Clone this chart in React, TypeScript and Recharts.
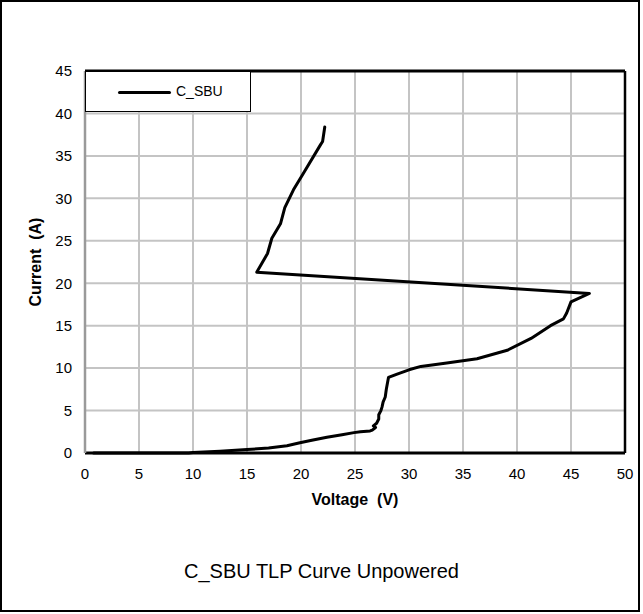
import { LineChart, Line, XAxis, YAxis, CartesianGrid, ReferenceLine, Legend, Label } from "recharts";

// TLP sweep (V, A) in trace order
const voltage = [
  0.8, 5, 9.6, 10, 12.5, 15, 17, 18.7, 19.9, 21, 22.4, 23.8, 24.9, 25.5, 26.4, 26.6, 26.9,
  26.7, 27.0, 27.2, 27.2, 27.4, 27.5, 27.6, 27.8, 27.9, 28.1, 28.9, 30.0, 31.1, 33.5, 36.3,
  39.1, 41.3, 43.1, 44.3, 44.6, 45.0, 46.7, 15.9, 16.9, 17.3, 18.1, 18.5, 19.3, 20.1, 21.8,
  22.0, 22.2,
];
const current = [
  0, 0, 0, 0.07, 0.2, 0.4, 0.6, 0.86, 1.2, 1.5, 1.85, 2.15, 2.4, 2.5, 2.6, 2.7, 3.0,
  3.2, 3.5, 4.0, 4.5, 5.0, 5.4, 6.0, 6.6, 7.5, 8.9, 9.3, 9.8, 10.2, 10.6, 11.1,
  12.1, 13.5, 15.0, 15.8, 16.5, 17.8, 18.8, 21.3, 23.5, 25.3, 27.0, 28.9, 31.0, 32.7, 36.3,
  36.7, 38.4,
];
const xTicks = [0, 5, 10, 15, 20, 25, 30, 35, 40, 45, 50];
const yTicks = [0, 5, 10, 15, 20, 25, 30, 35, 40, 45];
const seriesName = "C_SBU";
const title = "C_SBU TLP Curve Unpowered";

const data = voltage.map((v, i) => ({ v, a: current[i] }));

const font = "'Liberation Sans', Arial, sans-serif";

const LegendBox = () => (
  <div
    style={{
      width: 166,
      height: 41,
      boxSizing: "border-box",
      border: "1.5px solid #000",
      background: "#fff",
      position: "relative",
      fontFamily: font,
      fontSize: 14,
    }}
  >
    <div
      style={{
        position: "absolute",
        left: 32,
        top: 19,
        width: 53,
        height: 3,
        borderRadius: 2,
        background: "#000",
      }}
    />
    <span style={{ position: "absolute", left: 90, top: 11, color: "#000" }}>{seriesName}</span>
  </div>
);

const YTitle = (props: any) => {
  const vb = props.viewBox || {};
  const cx = 35;
  const cy = vb.y + vb.height / 2;
  return (
    <text
      x={cx}
      y={cy}
      transform={`rotate(-90, ${cx}, ${cy})`}
      textAnchor="middle"
      dominantBaseline="central"
      fontFamily={font}
      fontSize={16}
      fontWeight="bold"
      fill="#000"
    >
      Current&#160;&#160;(A)
    </text>
  );
};

export default function App() {
  return (
    <div style={{ position: "absolute", left: 0, top: 0, width: 643, height: 614, background: "#fff" }}>
      <div
        style={{
          position: "absolute",
          left: 0,
          top: 0,
          width: 640,
          height: 612,
          boxSizing: "border-box",
          border: "2px solid #000",
        }}
      />
      <div style={{ position: "absolute", left: 0, top: 0 }}>
        <LineChart width={643} height={614} data={data} margin={{ top: 71, right: 18, bottom: 131, left: 25 }}>
          <CartesianGrid stroke="#c4c4c4" strokeWidth={2} />
          <XAxis
            type="number"
            dataKey="v"
            domain={[0, 50]}
            ticks={xTicks}
            interval={0}
            height={30}
            tickLine={false}
            tickSize={6}
            tickMargin={9}
            axisLine={{ stroke: "#000", strokeWidth: 3 }}
            tick={{ fill: "#000", fontSize: 15, fontFamily: font }}
          >
            <Label
              value={"Voltage\u00a0\u00a0(V)"}
              position="bottom"
              offset={11}
              style={{ fontFamily: font, fontSize: 16, fontWeight: "bold", fill: "#000" }}
            />
          </XAxis>
          <YAxis
            type="number"
            domain={[0, 45]}
            ticks={yTicks}
            interval={0}
            width={60}
            tickLine={false}
            tickSize={6}
            tickMargin={7}
            axisLine={{ stroke: "#9a9a9a", strokeWidth: 2.5 }}
            tick={{ fill: "#000", fontSize: 15, fontFamily: font }}
          >
            <Label content={<YTitle />} />
          </YAxis>
          <ReferenceLine y={45} stroke="#000" strokeWidth={3} />
          <ReferenceLine x={50} stroke="#000" strokeWidth={2.5} />
          <Legend
            layout="horizontal"
            verticalAlign="middle"
            align="center"
            wrapperStyle={{ left: 85, top: 71, width: 166, height: 41 }}
            content={() => <LegendBox />}
          />
          <Line
            type="linear"
            dataKey="a"
            name={seriesName}
            stroke="#000"
            strokeWidth={3}
            strokeLinejoin="round"
            strokeLinecap="round"
            dot={false}
            isAnimationActive={false}
          />
        </LineChart>
      </div>
      <div
        style={{
          position: "absolute",
          left: 0,
          width: 643,
          top: 560,
          textAlign: "center",
          fontFamily: font,
          fontSize: 20,
          color: "#000",
        }}
      >
        {title}
      </div>
    </div>
  );
}
